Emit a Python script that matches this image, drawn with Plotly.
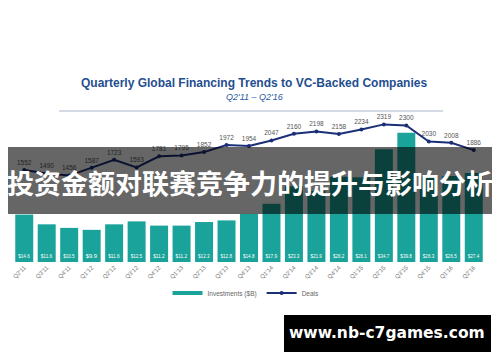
import plotly.graph_objects as go

quarters = ["Q2'11", "Q3'11", "Q4'11", "Q1'12", "Q2'12", "Q3'12", "Q4'12", "Q1'13",
            "Q2'13", "Q3'13", "Q4'13", "Q1'14", "Q2'14", "Q3'14", "Q4'14", "Q1'15",
            "Q2'15", "Q3'15", "Q4'15", "Q1'16", "Q2'16"]
investments = [14.6, 11.6, 10.5, 9.9, 11.6, 12.5, 11.2, 11.2, 12.3, 12.8, 14.8,
               17.9, 23.3, 21.9, 26.2, 26.1, 34.7, 39.8, 26.3, 26.5, 27.4]
deals = [1552, 1490, 1456, 1587, 1723, 1593, 1781, 1795, 1852, 1972, 1954,
         2047, 2160, 2198, 2158, 2234, 2319, 2300, 2030, 2008, 1886]
inv_labels = ["$" + f"{v:.1f}" for v in investments]

# The page body has an 8px default margin, so the figure is offset by 8px.
OFF = 8
W, H = 500 - OFF, 362 - OFF
ML, MR, MT, MB = 5, 15, 112, 100
PW, PH = W - ML - MR, H - MT - MB


def px(x):
    """screen x -> paper x"""
    return (x - OFF - ML) / PW


def py(y):
    """screen y -> paper y"""
    return (H - MB - (y - OFF)) / PH


teal = "#1aa39a"
navy = "#1b2f78"

fig = go.Figure()
fig.add_trace(go.Bar(
    x=quarters, y=investments, name="Investments ($B)", showlegend=False,
    marker=dict(color=teal, line=dict(width=0)),
    text=inv_labels, textposition="inside", insidetextanchor="start",
    textfont=dict(size=6, color="white", family="Liberation Sans"),
    textangle=0, cliponaxis=False,
))
# legend-only swatch for the bar series (drawn as a thick line like the reference)
fig.add_trace(go.Scatter(
    x=[None], y=[None], name="Investments ($B)", mode="lines",
    line=dict(color=teal, width=4),
))
fig.add_trace(go.Scatter(
    x=quarters, y=deals, name="Deals", yaxis="y2",
    mode="lines+markers+text",
    line=dict(color=navy, width=2),
    marker=dict(color=navy, size=4),
    text=[str(d) for d in deals], textposition="top center",
    textfont=dict(size=6.5, color="#555555", family="Liberation Sans"),
    cliponaxis=False,
))

shapes = [
    dict(type="line", xref="paper", yref="paper", x0=px(59), x1=px(443),
         y0=py(111), y1=py(111), line=dict(color="#a9b8cc", width=1)),
    dict(type="rect", xref="paper", yref="paper", x0=px(7), x1=px(494),
         y0=py(214), y1=py(147), fillcolor="rgba(0,0,0,0.6)",
         line=dict(width=0), layer="above"),
    dict(type="rect", xref="paper", yref="paper", x0=px(284), x1=px(491),
         y0=py(352), y1=py(315), fillcolor="#000000",
         line=dict(width=0), layer="above"),
]

annotations = [
    dict(text="<b>Quarterly Global Financing Trends to VC-Backed Companies</b>",
         xref="paper", yref="paper", x=px(254), y=py(83), showarrow=False,
         font=dict(size=12, color="#1f4e8f", family="Liberation Sans"),
         xanchor="center", yanchor="middle"),
    dict(text="<i>Q2'11 – Q2'16</i>",
         xref="paper", yref="paper", x=px(255), y=py(96.5), showarrow=False,
         font=dict(size=9, color="#2a5ca0", family="Liberation Sans"),
         xanchor="center", yanchor="middle"),
    dict(text="<b>投资金额对联赛竞争力的提升与影响分析</b>",
         xref="paper", yref="paper", x=px(250), y=py(182.5), showarrow=False,
         font=dict(size=27, color="white", family="Noto Sans CJK SC"),
         xanchor="center", yanchor="middle"),
    dict(text="<b>www.nb-c7games.com</b>",
         xref="paper", yref="paper", x=px(387), y=py(333), showarrow=False,
         font=dict(size=15.5, color="white", family="DejaVu Sans"),
         xanchor="center", yanchor="middle"),
]

fig.update_layout(
    width=W, height=H,
    margin=dict(l=ML, r=MR, t=MT, b=MB, autoexpand=False),
    paper_bgcolor="white", plot_bgcolor="white",
    bargap=0.2,
    showlegend=True,
    legend=dict(orientation="h", x=px(246), xanchor="center", y=py(293),
                yanchor="middle", font=dict(size=6.5, color="#666666",
                                            family="Liberation Sans"),
                itemwidth=30, bgcolor="rgba(0,0,0,0)"),
    xaxis=dict(type="category", tickangle=-45, showgrid=False, showline=False,
               zeroline=False, ticks="", automargin=False,
               range=[-0.5, len(quarters) - 0.5],
               tickfont=dict(size=6, color="#777777", family="Liberation Sans")),
    yaxis=dict(range=[0, 43.7], visible=False, showgrid=False),
    yaxis2=dict(range=[0, 2393], overlaying="y", visible=False, showgrid=False),
    shapes=shapes, annotations=annotations,
)

fig.write_html("out.html")
